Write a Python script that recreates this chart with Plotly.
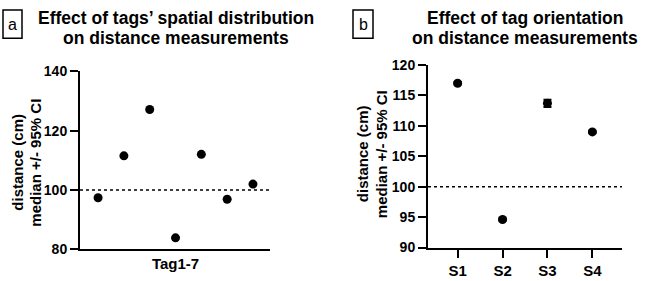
import plotly.graph_objects as go

# ---- data ----
tags = ["Tag1", "Tag2", "Tag3", "Tag4", "Tag5", "Tag6", "Tag7"]
tag_values = [97.4, 111.5, 127.1, 83.9, 112.0, 96.9, 102.0]

orientations = ["S1", "S2", "S3", "S4"]
orient_values = [117.0, 94.6, 113.7, 109.0]
orient_ci = [0.2, 0.2, 0.6, 0.2]

reference_distance = 100

W, H = 645, 281
FONT = "Liberation Sans, Arial, sans-serif"

fig = go.Figure()

fig.add_trace(go.Scatter(
    x=list(range(len(tags))), y=tag_values, mode="markers",
    marker=dict(color="black", size=9), xaxis="x", yaxis="y",
    text=tags, showlegend=False))

fig.add_trace(go.Scatter(
    x=list(range(len(orientations))), y=orient_values, mode="markers",
    marker=dict(color="black", size=9),
    error_y=dict(type="data", array=orient_ci, color="black", thickness=2, width=4),
    xaxis="x2", yaxis="y2", showlegend=False))

def px_x(a, b):
    return [a / W, b / W]

def px_y(top, bottom):
    return [(H - bottom) / H, (H - top) / H]

axis_common = dict(showline=True, linecolor="black", linewidth=2,
                   showgrid=False, zeroline=False, mirror=False)

fig.update_layout(
    width=W, height=H, margin=dict(l=0, r=0, t=0, b=0),
    paper_bgcolor="white", plot_bgcolor="white",
    font=dict(family=FONT, color="black"),
    xaxis=dict(domain=px_x(80, 270), range=[-0.7, 6.66],
               tickvals=[3], ticktext=["Tag1-7"], ticks="",
               tickfont=dict(size=15, weight="bold"), **axis_common),
    yaxis=dict(domain=px_y(67, 256), range=[80, 140], tickvals=[80, 100, 120, 140],
               ticks="outside", ticklen=8, tickwidth=2, tickcolor="black",
               tickfont=dict(size=14, weight="bold"), **axis_common),
    xaxis2=dict(domain=px_x(428, 622), range=[-0.66, 3.66],
                tickvals=list(range(len(orientations))), ticktext=orientations,
                ticks="outside", ticklen=8, tickwidth=2, tickcolor="black",
                tickfont=dict(size=15, weight="bold"), anchor="y2", **axis_common),
    yaxis2=dict(domain=px_y(60.4, 254), range=[90, 120], dtick=5, anchor="x2",
                ticks="outside", ticklen=8, tickwidth=2, tickcolor="black",
                tickfont=dict(size=14, weight="bold"), **axis_common),
)

# dotted reference lines
for xr, yr in [("x domain", "y"), ("x2 domain", "y2")]:
    fig.add_shape(type="line", xref=xr, yref=yr, x0=0, x1=1,
                  y0=reference_distance, y1=reference_distance,
                  line=dict(color="black", width=1.5, dash="dot"))

# titles (one annotation per line)
for xc, lines in [(176, ["Effect of tags’ spatial distribution", "on distance measurements"]),
                  (525, ["Effect of tag orientation", "on distance measurements"])]:
    for yc, txt in zip([11, 32], lines):
        fig.add_annotation(x=xc / W, y=1 - yc / H, xref="paper", yref="paper",
                           xanchor="center", yanchor="middle", showarrow=False,
                           text=txt, font=dict(size=17.5, weight="bold"))

# y axis titles
for xc, yc, txt in [(18, 164, "distance (cm)"), (36, 164, "median +/- 95% CI"),
                    (362, 155, "distance (cm)"), (381, 155, "median +/- 95% CI")]:
    fig.add_annotation(x=xc / W, y=1 - yc / H, xref="paper", yref="paper",
                       xanchor="center", yanchor="middle", showarrow=False,
                       textangle=-90, text=txt, font=dict(size=15, weight="bold"))

# panel letter boxes
for x0, x1, letter in [(3, 22, "a"), (353, 373, "b")]:
    fig.add_shape(type="rect", xref="paper", yref="paper",
                  x0=x0 / W, x1=x1 / W, y0=1 - 32 / H, y1=1 - 2 / H,
                  line=dict(color="black", width=1.5))
    fig.add_annotation(x=(x0 + x1) / 2 / W, y=1 - 17 / H, xref="paper", yref="paper",
                       xanchor="center", yanchor="middle", showarrow=False,
                       text=letter, font=dict(size=16))

fig.write_html("out.html", config={"displayModeBar": False},
               post_script="document.body.style.margin='0';document.body.style.overflow='hidden';")
